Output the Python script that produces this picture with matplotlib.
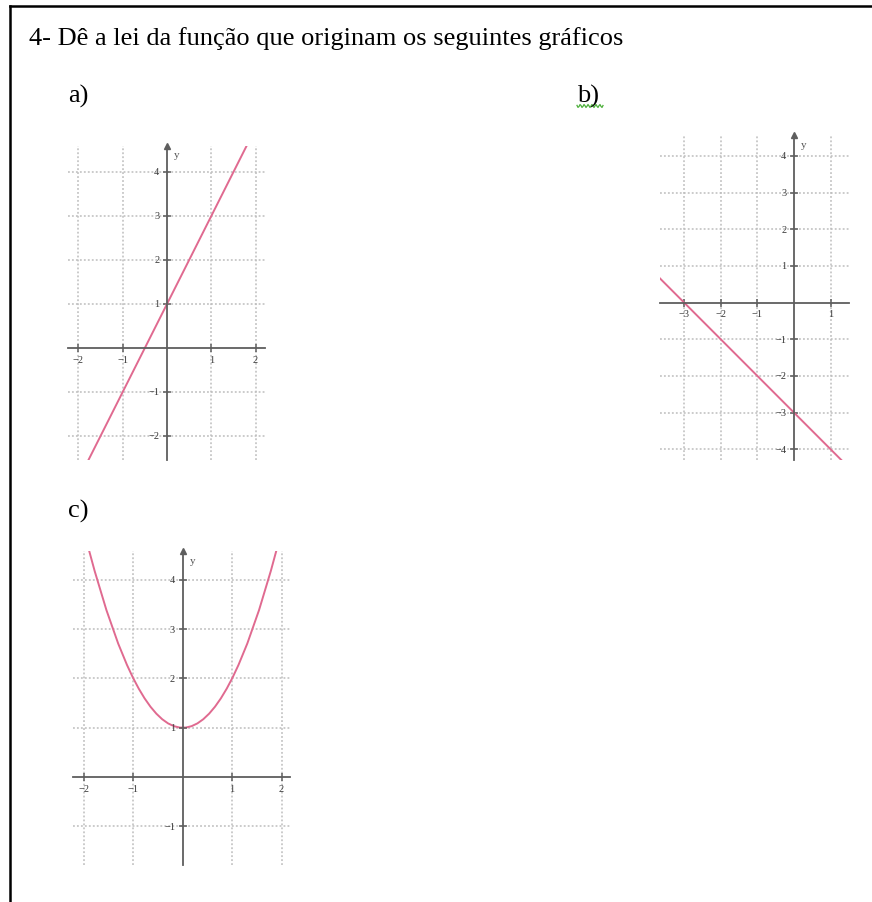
import matplotlib.pyplot as plt
from matplotlib.lines import Line2D
from matplotlib.path import Path
from matplotlib.patches import PathPatch
import numpy as np

plt.rcParams['font.family'] = ['Liberation Serif', 'DejaVu Serif']

title = "4- Dê a lei da função que originam os seguintes gráficos"

# graph a) straight line
a_xlim = (-2.23, 2.21)
a_ylim = (-2.55, 4.6)
a_xticks = [-2, -1, 1, 2]
a_yticks = [-2, -1, 1, 2, 3, 4]
a_line_x = [-1.78, 1.8]
a_line_y = [-2.56, 4.6]

# graph b) straight line, negative slope
b_xlim = (-3.66, 1.5)
b_ylim = (-4.29, 4.57)
b_xticks = [-3, -2, -1, 1]
b_yticks = [-4, -3, -2, -1, 1, 2, 3, 4]
b_line_x = [-3.66, 1.3]
b_line_y = [0.66, -4.3]

# graph c) parabola: start, vertex, end
c_xlim = (-2.23, 2.17)
c_ylim = (-1.78, 4.58)
c_xticks = [-2, -1, 1, 2]
c_yticks = [-1, 1, 2, 3, 4]
c_curve_x = [-1.9, 0.0, 1.9]
c_curve_y = [4.61, 1.0, 4.61]

W, H = 872, 902
curve_color = '#e06a90'
axis_color = '#5e5e5e'
grid_color = '#bdbdbd'

fig = plt.figure(figsize=(W / 100, H / 100), dpi=100)


def px_axes(left, top, right, bottom):
    return fig.add_axes([left / W, 1 - bottom / H, (right - left) / W, (bottom - top) / H])


def setup(ax, xlim, ylim, xticks, yticks):
    ax.set_xlim(*xlim)
    ax.set_ylim(*ylim)
    for side in ('top', 'right'):
        ax.spines[side].set_visible(False)
    for side in ('left', 'bottom'):
        ax.spines[side].set_position(('data', 0))
        ax.spines[side].set_color(axis_color)
        ax.spines[side].set_linewidth(1.3)
    ax.set_xticks(xticks)
    ax.set_yticks(yticks)
    ax.set_xticklabels([str(t).replace('-', '\u2212') for t in xticks])
    ax.set_yticklabels([str(t).replace('-', '\u2212') for t in yticks])
    ax.tick_params(direction='inout', length=6, width=1.1, color=axis_color,
                   labelsize=7.5, labelcolor='#3a3a3a', pad=2.5)
    for t in xticks:
        ax.axvline(t, color=grid_color, lw=1.1, ls=(0, (1.2, 1.4)), zorder=0)
    for t in yticks:
        ax.axhline(t, color=grid_color, lw=1.1, ls=(0, (1.2, 1.4)), zorder=0)
    # arrow head and label on the y axis
    ax.plot(0, 1, marker='^', ms=4.5, color=axis_color,
            transform=ax.get_xaxis_transform(), clip_on=False)
    ax.annotate('y', xy=(0, 1), xycoords=ax.get_xaxis_transform(),
                xytext=(5, -9), textcoords='offset points',
                fontsize=8, color='#555555')


ax_a = px_axes(68.2, 145.6, 264.9, 460.2)
setup(ax_a, a_xlim, a_ylim, a_xticks, a_yticks)
ax_a.plot(a_line_x, a_line_y, color=curve_color, lw=1.4)

ax_b = px_axes(660, 135, 849, 460)
setup(ax_b, b_xlim, b_ylim, b_xticks, b_yticks)
ax_b.plot(b_line_x, b_line_y, color=curve_color, lw=1.4)

ax_c = px_axes(72.5, 551, 290, 865)
setup(ax_c, c_xlim, c_ylim, c_xticks, c_yticks)
# a parabola segment is exactly a quadratic Bezier curve
p0 = np.array([c_curve_x[0], c_curve_y[0]])
v = np.array([c_curve_x[1], c_curve_y[1]])
p2 = np.array([c_curve_x[2], c_curve_y[2]])
ctrl = 2 * v - (p0 + p2) / 2
parab = Path([p0, ctrl, p2], [Path.MOVETO, Path.CURVE3, Path.CURVE3])
ax_c.add_patch(PathPatch(parab, fill=False, edgecolor=curve_color, lw=1.4))

# page text
fig.text(29 / W, 1 - 45 / H, title, fontsize=19, color='black', va='baseline')
fig.text(68 / W, 1 - 103 / H, 'a)', fontsize=19, color='black', va='baseline')
fig.text(577 / W, 1 - 103 / H, 'b)', fontsize=19, color='black', va='baseline')
fig.text(68 / W, 1 - 518 / H, 'c)', fontsize=19, color='black', va='baseline')

# spell-check squiggle under b)
sx = np.linspace(577, 603, 27)
sy = 106 + 1.5 * np.sin(sx * 1.6)
fig.add_artist(Line2D(sx / W, 1 - sy / H, color='#4caf3a', lw=0.9))

# page frame
fig.add_artist(Line2D([10 / W, 1], [1 - 6 / H, 1 - 6 / H], color='black', lw=1.8))
fig.add_artist(Line2D([10 / W, 10 / W], [1 - 6 / H, 0], color='black', lw=1.8))

fig.savefig('out.png', dpi=100)
